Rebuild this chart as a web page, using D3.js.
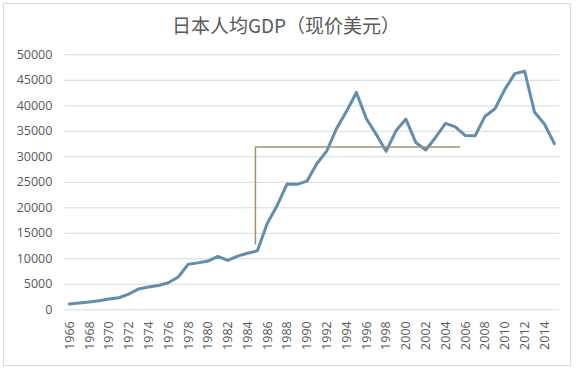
<!DOCTYPE html>
<html><head><meta charset="utf-8">
<script src="https://cdn.jsdelivr.net/npm/d3@7"></script>
<style>
html,body{margin:0;padding:0;background:#fff;}
svg{display:block;}
</style></head>
<body>
<svg id="c" width="578" height="371"></svg>
<script>
const title = "日本人均GDP（现价美元）";
const years = d3.range(1966, 2016);
const gdp = [1059,1229,1451,1669,2037,2272,2967,3997,4354,4659,
  5198,6335,8821,9105,9463,10361,9578,10425,10984,11465,
  16882,20355,24590,24505,25124,28541,31014,35452,38815,42522,
  37423,34304,30969,34999,37300,32716,31236,33691,36442,35781,
  34077,34034,37866,39323,43118,46204,46679,38634,36332,32477];
const yTicks = [0,5000,10000,15000,20000,25000,30000,35000,40000,45000,50000];
const xTickYears = d3.range(1966, 2015, 2);
// annotation: vertical from 1985 low up to ~31800, then across to ~2005.5
const annoX = [1984.8, 1984.8, 2005.5];
const annoY = [12700, 31800, 31800];

const svg = d3.select("#c");
const pLeft = 64.4, pRight = 559.3, pTop = 54.3, pBottom = 309.3;

svg.append("rect").attr("x",3.5).attr("y",3.5).attr("width",567).attr("height",362)
  .attr("fill","#fff").attr("stroke","#d9d9d9").attr("stroke-width",1);

const x = d3.scaleBand().domain(years).range([pLeft,pRight]);
const xc = v => x(v) + x.bandwidth()/2;
const xl = d3.scaleLinear().domain([1966,2015]).range([xc(1966), xc(2015)]);
const y = d3.scaleLinear().domain([0,50000]).range([pBottom, pTop]);

svg.append("text").attr("x",286).attr("y",32.5).attr("text-anchor","middle")
  .attr("font-family","'Noto Sans CJK SC', sans-serif").attr("font-size",19)
  .attr("font-weight",400)
  .attr("fill","#595959").text(title);

const ga = svg.append("g").attr("transform",`translate(${pLeft},0)`)
  .call(d3.axisLeft(y).tickValues(yTicks).tickSize(-(pRight-pLeft)).tickPadding(12).tickFormat(d3.format("d")));
ga.select(".domain").remove();
ga.selectAll(".tick line").attr("stroke","#d9d9d9");
ga.selectAll(".tick text").attr("fill","#595959").attr("font-size",12.5)
  .attr("font-family","'Open Sans', sans-serif");

const gx = svg.append("g").attr("transform",`translate(0,${pBottom})`)
  .call(d3.axisBottom(x).tickValues(xTickYears).tickSize(0).tickPadding(0));
gx.select(".domain").remove();
gx.selectAll(".tick text")
  .attr("font-family","'Open Sans', sans-serif").attr("font-size",12.5).attr("fill","#595959")
  .attr("text-anchor","end").attr("dy","0.35em")
  .attr("transform","translate(0,12) rotate(-90)").attr("x",0).attr("y",0);

const lineGen = d3.line().x((d,i)=>xc(years[i])).y(d=>y(d));
svg.append("path").datum(gdp).attr("d",lineGen).attr("fill","none")
  .attr("stroke","#5f8eae").attr("stroke-width",3).attr("stroke-linejoin","round").attr("stroke-linecap","round");

const annoGen = d3.line().x((d,i)=>xl(annoX[i])).y((d,i)=>y(annoY[i]));
svg.append("path").datum(annoX).attr("d",annoGen).attr("fill","none")
  .attr("stroke","#a39273").attr("stroke-width",1.5);
</script>
</body></html>
